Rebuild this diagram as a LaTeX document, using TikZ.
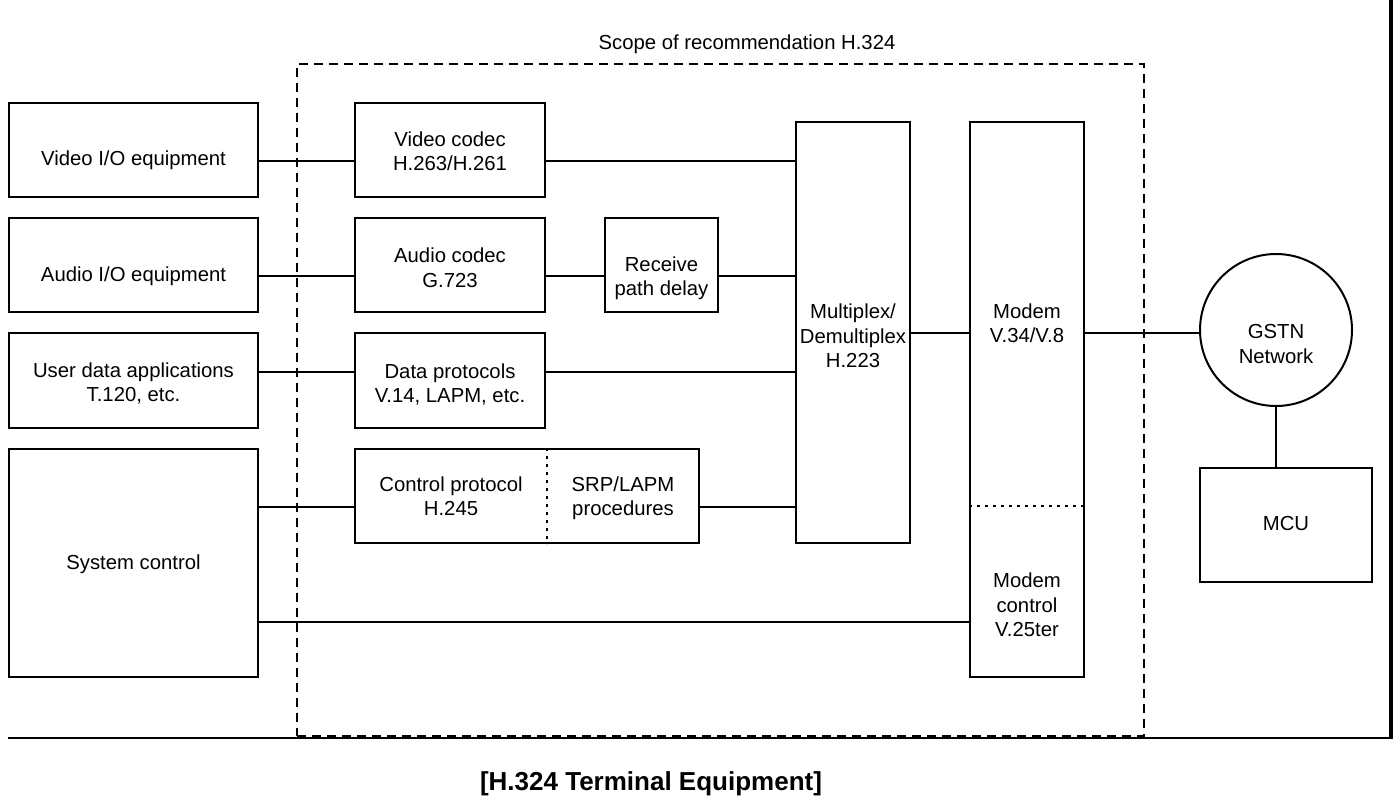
\documentclass[tikz,border=0pt]{standalone}
\usepackage{fontspec}
\setmainfont{Liberation Sans}
% line break that keeps every line of a label the same height
\newcommand\brk{\strut\\\strut}
% rectangle node given by its corners: name, x1, y1, x2, y2
\newcommand\blkbox[5]{\node[blk, minimum width={(#4-#2)*1pt}, minimum height={(#5-#3)*1pt}] (#1) at ({(#2+#4)/2},{(#3+#5)/2}) {};}
\tikzset{
  blk/.style={draw, rectangle, line width=2pt, inner sep=0pt},
  lbl/.style={font=\fontsize{20.3}{24.5}\selectfont, align=center, inner sep=0pt,
              execute at begin node=\strut, execute at end node=\strut},
  wire/.style={line width=2pt},
  divider/.style={line width=1.6pt, dash pattern=on 3pt off 5pt},
  scopeframe/.style={draw, line width=1.6pt, dash pattern=on 9pt off 6pt, inner sep=0pt},
  frameline/.style={line width=#1},
}
\begin{document}
\begin{tikzpicture}[x=1pt,y=-1pt]
\useasboundingbox (0,0) rectangle (1396,797);

% scope of the recommendation
\node[scopeframe, minimum width=847pt, minimum height=672pt] (scope) at (720.5,400) {};
\node[lbl] (scopelbl) at (747,44.4) {Scope of recommendation H.324};

% outer frame of the terminal
\draw[frameline=4pt] (1391,0) -- (1391,738);
\draw[frameline=2.5pt] (8,738) -- (1393,738);

% equipment outside the scope
\blkbox{vio}{9}{103}{258}{197}
\blkbox{aio}{9}{218}{258}{312}
\blkbox{uda}{9}{333}{258}{428}
\blkbox{sys}{9}{449}{258}{677}

% blocks inside the scope
\blkbox{vcodec}{355}{103}{545}{197}
\blkbox{acodec}{355}{218}{545}{312}
\blkbox{rpd}{605}{218}{718}{312}
\blkbox{dprot}{355}{333}{545}{428}
\blkbox{ctrl}{355}{449}{699}{543}
\blkbox{mux}{796}{122}{910}{543}
\blkbox{modem}{970}{122}{1084}{677}

% network side
\node[draw, circle, line width=2pt, inner sep=0pt, minimum size=152pt] (gstn) at (1276,330) {};
\blkbox{mcu}{1200}{468}{1372}{582}

% dotted internal divisions
\draw[divider] (ctrl.north -| 547,0) -- (ctrl.south -| 547,0);
\draw[divider] (modem.west |- 0,506) -- (modem.east |- 0,506);

% labels
\node[lbl] (vio-t) at (133.5,160.4) {Video I/O equipment};
\node[lbl] (aio-t) at (133.5,276.4) {Audio I/O equipment};
\node[lbl] (uda-t) at (133.5,384.4) {User data applications\brk T.120, etc.};
\node[lbl] (sys-t) at (133.5,564.4) {System control};
\node[lbl] (vcodec-t) at (450,153.4) {Video codec\brk H.263/H.261};
\node[lbl] (acodec-t) at (450,270) {Audio codec\brk G.723};
\node[lbl] (rpd-t) at (661.5,278.4) {Receive\brk path delay};
\node[lbl] (dprot-t) at (450,385.4) {Data protocols\brk V.14, LAPM, etc.};
\node[lbl] (ctrl-t) at (451,498.4) {Control protocol\brk H.245};
\node[lbl] (srp-t) at (623,498.4) {SRP/LAPM\brk procedures};
\node[lbl] (mux-t) at (853,338.4) {Multiplex/\brk Demultiplex\brk H.223};
\node[lbl] (modem-t) at (1027,325.4) {Modem\brk V.34/V.8};
\node[lbl] (modemctl-t) at (1027,607.4) {Modem\brk control\brk V.25ter};
\node[lbl] (gstn-t) at (1276,346) {GSTN\brk Network};
\node[lbl] (mcu-t) at (1286,525.4) {MCU};

% connections
\draw[wire] (vio.east |- 0,161) -- (vcodec.west |- 0,161);
\draw[wire] (vcodec.east |- 0,161) -- (mux.west |- 0,161);
\draw[wire] (aio.east |- 0,276) -- (acodec.west |- 0,276);
\draw[wire] (acodec.east |- 0,276) -- (rpd.west |- 0,276);
\draw[wire] (rpd.east |- 0,276) -- (mux.west |- 0,276);
\draw[wire] (uda.east |- 0,372) -- (dprot.west |- 0,372);
\draw[wire] (dprot.east |- 0,372) -- (mux.west |- 0,372);
\draw[wire] (sys.east |- 0,507) -- (ctrl.west |- 0,507);
\draw[wire] (ctrl.east |- 0,507) -- (mux.west |- 0,507);
\draw[wire] (sys.east |- 0,622) -- (modem.west |- 0,622);
\draw[wire] (mux.east |- 0,333) -- (modem.west |- 0,333);
\draw[wire] (modem.east |- 0,333) -- (gstn.west |- 0,333);
\draw[wire] (gstn.south) -- (gstn.south |- mcu.north);

% caption
\node[font=\fontsize{26}{30}\selectfont\bfseries, anchor=base, inner sep=0pt] (caption) at (651,790) {[H.324 Terminal Equipment]};
\end{tikzpicture}
\end{document}
